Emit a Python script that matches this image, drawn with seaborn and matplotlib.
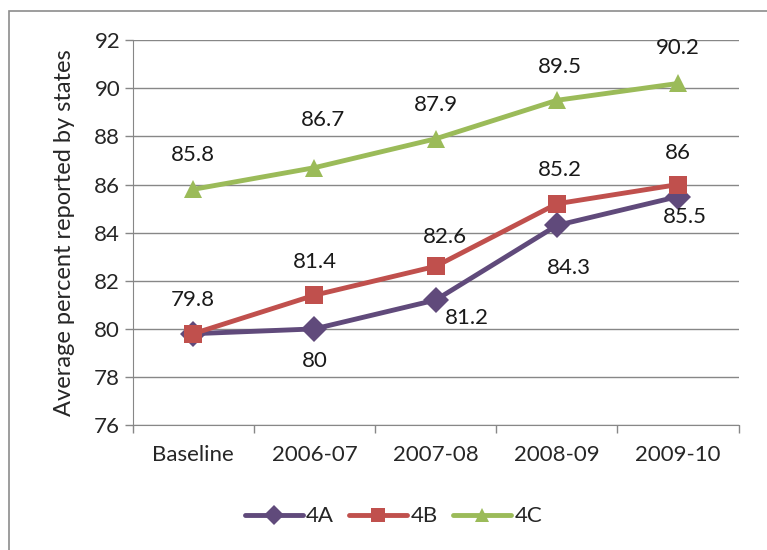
import matplotlib
matplotlib.use("Agg")
import matplotlib.pyplot as plt
import pandas as pd
import seaborn as sns

years = ['Baseline', '2006-07', '2007-08', '2008-09', '2009-10']
v4a = [79.8, 80, 81.2, 84.3, 85.5]
v4b = [79.8, 81.4, 82.6, 85.2, 86]
v4c = [85.8, 86.7, 87.9, 89.5, 90.2]
series = ['4A', '4B', '4C']

colors = {'4A': '#604a7b', '4B': '#c0504d', '4C': '#9bbb59'}
markers = {'4A': 'D', '4B': 's', '4C': '^'}

# label offsets in pixels (dx, dy), None = no label
label_px = {
    '4A': [None, (0, -32), (31, -18), (12, -43), (7, -20)],
    '4B': [(0, 34), (0, 33), (9, 29), (3, 34), (0, 32)],
    '4C': [(0, 34), (9, 48), (0, 34), (3, 33), (0, 35)],
}

df = pd.DataFrame({
    'year': years * 3,
    'x': list(range(len(years))) * 3,
    'value': v4a + v4b + v4c,
    'series': ['4A'] * 5 + ['4B'] * 5 + ['4C'] * 5,
})

sns.set_style('white')
plt.rcParams['font.family'] = ['Lato', 'DejaVu Sans']
fs = 16

fig = plt.figure(figsize=(7.67, 5.5), dpi=100)
ax = fig.add_axes([0.173, 0.227, 0.79, 0.70])

sns.lineplot(data=df, x='x', y='value', hue='series', style='series',
             palette=colors, markers=markers, dashes=False, linewidth=3.5,
             markersize=13, markeredgewidth=0, ax=ax)

for s, vals in zip(series, [v4a, v4b, v4c]):
    for i, v in enumerate(vals):
        off = label_px[s][i]
        if off is None:
            continue
        ax.annotate(f'{v:g}', (i, v), xytext=(off[0] * 0.72, off[1] * 0.72),
                    textcoords='offset points', ha='center', va='center',
                    fontsize=fs, color='#1a1a1a')

ax.set_xlim(-0.5, 4.5)
ax.set_ylim(76, 92)
ax.set_yticks(range(76, 93, 2))
ax.set_xticks(range(5))
ax.set_xticklabels(years)
ax.set_xticks([i - 0.5 for i in range(6)], minor=True)
ax.tick_params(axis='x', which='major', length=0, pad=14, labelsize=fs)
ax.tick_params(axis='x', which='minor', length=6, color='#878787', width=1, direction='out', bottom=True)
ax.tick_params(axis='y', length=6, color='#878787', width=1, direction='out', left=True, labelsize=fs, pad=3)
ax.grid(axis='y', color='#878787', linewidth=1)
ax.set_axisbelow(True)
for side in ['top', 'right']:
    ax.spines[side].set_visible(False)
for side in ['left', 'bottom']:
    ax.spines[side].set_color('#878787')
ax.set_xlabel('')
ax.set_ylabel('Average percent reported by states', fontsize=17, labelpad=14)

handles, labels = ax.get_legend_handles_labels()
ax.legend(handles, labels, loc='center', ncol=3, frameon=False, fontsize=fs,
          handlelength=2.6, columnspacing=0.7, handletextpad=0.15, markerscale=0.8)
ax.legend_.set_bbox_to_anchor((0.513, 0.061), transform=fig.transFigure)

fig.patches.append(plt.Rectangle((0.012, -0.01), 1.0, 0.99, transform=fig.transFigure,
                                 fill=False, edgecolor='#8c8c8c', linewidth=1.2))

fig.savefig('out.png', dpi=100)
